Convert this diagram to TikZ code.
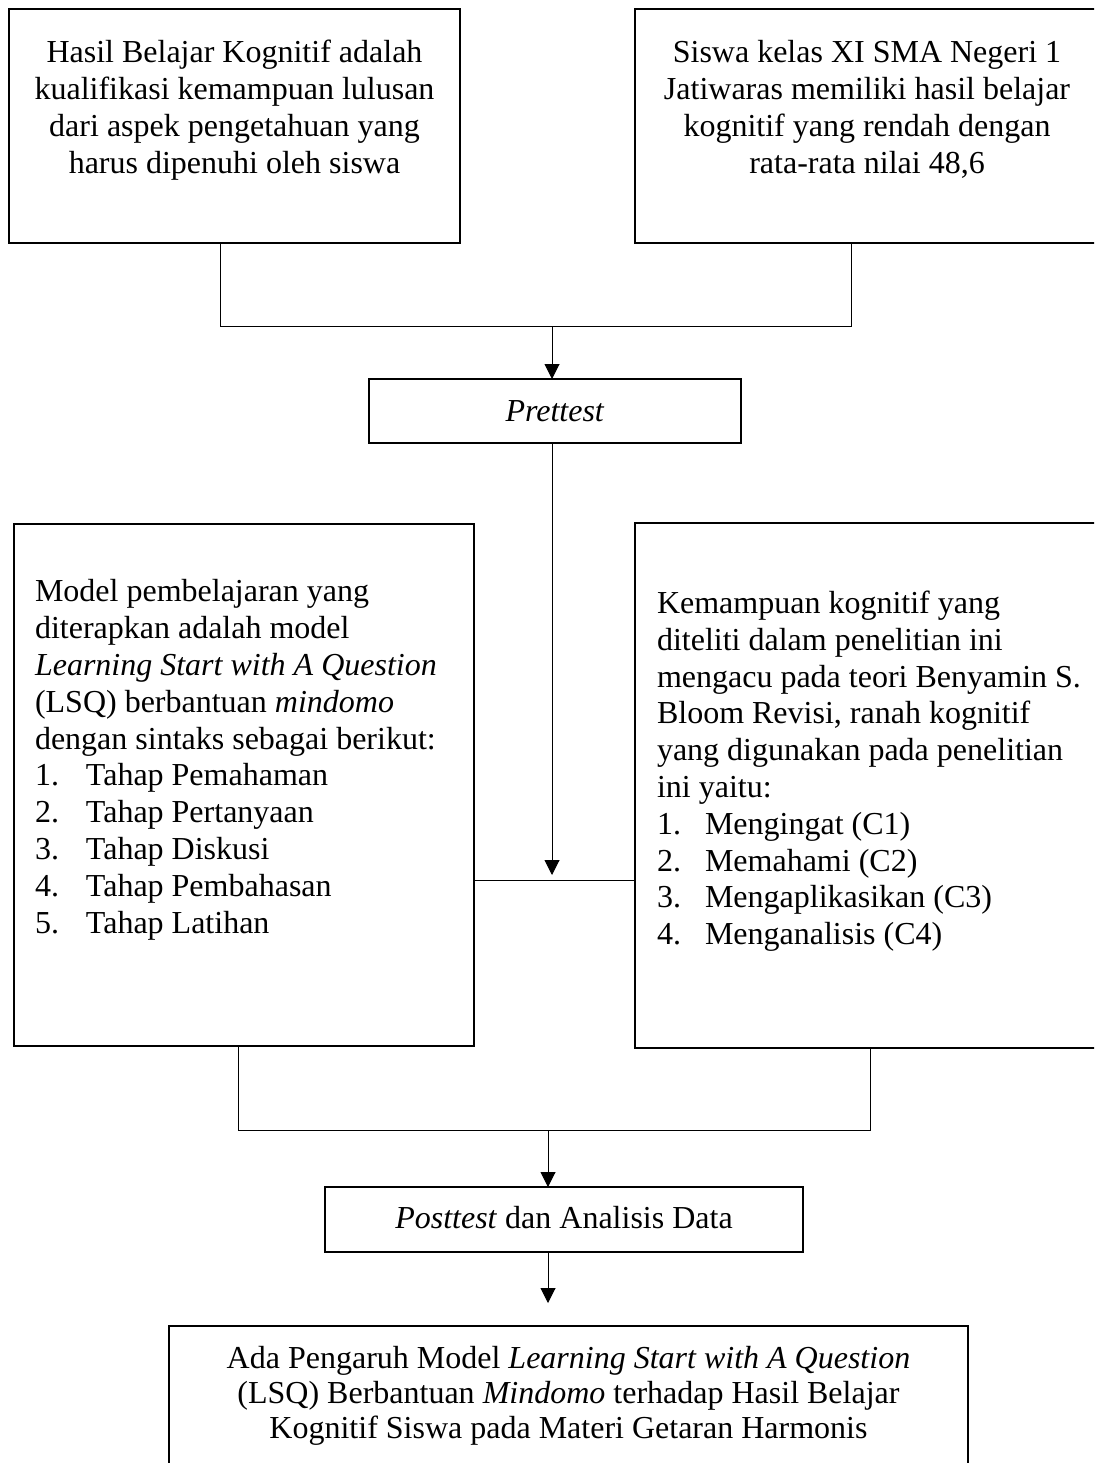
\documentclass[tikz,border=0pt]{standalone}
\usepackage{fontspec}
\setmainfont{Liberation Serif}
\usetikzlibrary{arrows.meta}
\begin{document}
\begin{tikzpicture}[x=1pt,y=-1pt,
  box/.style={draw,line width=2.2pt,inner sep=0pt,outer sep=0pt,anchor=north west},
  txt/.style={inner sep=0pt,outer sep=0pt,font=\fontsize{32}{36.8}\selectfont},
  txtb/.style={inner sep=0pt,outer sep=0pt,font=\fontsize{32}{35}\selectfont},
  conn/.style={line width=1pt},
  arr/.style={line width=1pt,-{Triangle[width=15pt,length=15pt]}}]
\useasboundingbox (0,0) rectangle (1094,1463);
\clip (0,0) rectangle (1094,1463);
\fill[white] (0,0) rectangle (1094,1463);

% boxes
\node[box,minimum width=451pt,minimum height=234pt] (b1) at (9,9) {};
\node[box,minimum width=464pt,minimum height=234pt] (b2) at (635,9) {};
\node[box,minimum width=372pt,minimum height=64pt] (pre) at (369,379) {};
\node[box,minimum width=460pt,minimum height=522pt] (b3) at (14,524) {};
\node[box,minimum width=464pt,minimum height=525pt] (b4) at (635,523) {};
\node[box,minimum width=478pt,minimum height=65pt] (post) at (325,1187) {};
\node[box,minimum width=799pt,minimum height=180pt] (b5) at (169,1326) {};

% texts
\node[txt,anchor=north,align=center] (t1) at (234.5,37.2)
 {\strut Hasil Belajar Kognitif adalah\\kualifikasi kemampuan lulusan\\dari aspek pengetahuan yang\\harus dipenuhi oleh siswa};
\node[txt,anchor=north,align=center] (t2) at (867,37.2)
 {\strut Siswa kelas XI SMA Negeri 1\\Jatiwaras memiliki hasil belajar\\kognitif yang rendah dengan\\rata-rata nilai 48,6};
\node[txt,anchor=base] (tpre) at (555,421) {\textit{Prettest}};
\node[txt,anchor=north west,align=left] (t3) at (35,576.2)
 {\strut Model pembelajaran yang\\diterapkan adalah model\\\textit{Learning Start with A Question}\\(LSQ) berbantuan \textit{mindomo}\\dengan sintaks sebagai berikut:\\
 \makebox[51pt][l]{1.}Tahap Pemahaman\\\makebox[51pt][l]{2.}Tahap Pertanyaan\\\makebox[51pt][l]{3.}Tahap Diskusi\\\makebox[51pt][l]{4.}Tahap Pembahasan\\\makebox[51pt][l]{5.}Tahap Latihan};
\node[txt,anchor=north west,align=left] (t4) at (657,587.8)
 {\strut Kemampuan kognitif yang\\diteliti dalam penelitian ini\\mengacu pada teori Benyamin S.\\Bloom Revisi, ranah kognitif\\yang digunakan pada penelitian\\ini yaitu:\\
 \makebox[48pt][l]{1.}Mengingat (C1)\\\makebox[48pt][l]{2.}Memahami (C2)\\\makebox[48pt][l]{3.}Mengaplikasikan (C3)\\\makebox[48pt][l]{4.}Menganalisis (C4)};
\node[txt,anchor=base] (tpost) at (564,1228) {\textit{Posttest} dan Analisis Data};
\node[txtb,anchor=north,align=center] (t5) at (568.5,1343.5)
 {\strut Ada Pengaruh Model \textit{Learning Start with A Question}\\(LSQ) Berbantuan \textit{Mindomo} terhadap Hasil Belajar\\Kognitif Siswa pada Materi Getaran Harmonis};

% connectors
\coordinate (j1) at (220,326);
\coordinate (j2) at (851,326);
\coordinate (jm) at (552,326);
\coordinate (tipm) at (552,875);
\coordinate (hm) at (552,880);
\coordinate (k1) at (238,1130);
\coordinate (k2) at (870,1130);
\coordinate (km) at (548,1130);
\coordinate (tip2) at (548,1303);

\draw[conn] (b1.south -| j1) -- (j1) -- (j2) -- (b2.south -| j2);
\draw[arr] (jm) -- (pre.north -| jm);
\draw[arr] (pre.south -| jm) -- (tipm);
\draw[conn] (b3.east |- hm) -- (b4.west |- hm);
\draw[conn] (b3.south -| k1) -- (k1) -- (k2) -- (b4.south -| k2);
\draw[arr] (km) -- (post.north -| km);
\draw[arr] (post.south -| km) -- (tip2);
\end{tikzpicture}
\end{document}
